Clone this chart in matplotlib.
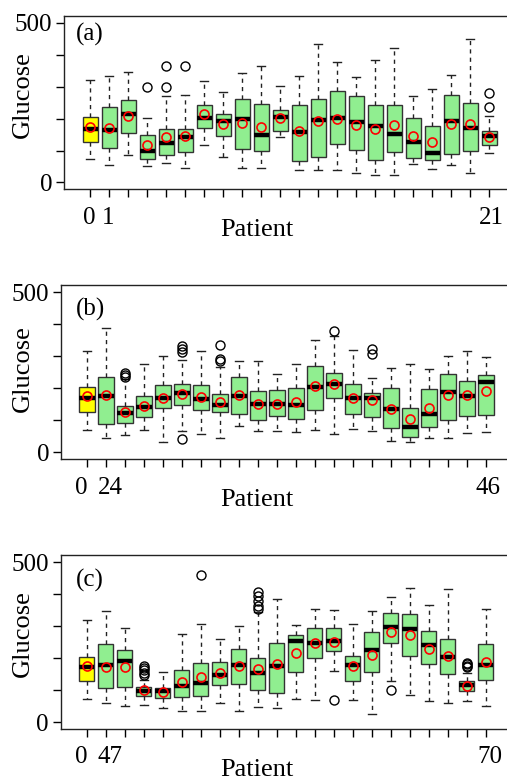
import matplotlib
matplotlib.use("Agg")
import matplotlib.pyplot as plt
from matplotlib.transforms import ScaledTranslation

plt.rcParams['font.family'] = ['Liberation Serif', 'DejaVu Serif']

W, H = 507, 782

# panel (a): patient 0 (reference) + patients 1..21
a_lo = [72, 56, 87, 53, 60, 44, 116, 80, 46, 46, 141, 38, 38, 38, 31, 23, 23, 58, 43, 56, 29, 91]
a_q1 = [128, 109, 155, 75, 85, 95, 170, 147, 106, 100, 160, 66, 81, 119, 102, 69, 96, 76, 69, 88, 98, 117]
a_med = [168, 163, 216, 99, 123, 141, 202, 193, 199, 150, 205, 158, 197, 201, 190, 177, 151, 128, 92, 192, 172, 145]
a_q3 = [205, 236, 258, 150, 169, 169, 242, 215, 260, 247, 227, 243, 261, 285, 270, 243, 243, 203, 176, 273, 248, 161]
a_hi = [320, 334, 345, 203, 272, 275, 317, 284, 343, 365, 301, 333, 435, 376, 331, 383, 422, 271, 292, 337, 450, 208]
a_mean = [174, 170, 207, 117, 141, 146, 214, 182, 186, 173, 201, 160, 194, 198, 180, 168, 180, 145, 127, 182, 184, 143]
a_out = [[], [], [], [298], [298, 366], [366], [], [], [], [], [], [], [], [], [], [], [], [], [], [], [], [235, 280]]

# panel (b): patient 0 + patients 24..46
b_lo = [71, 45, 54, 70, 33, 67, 58, 46, 81, 68, 67, 65, 71, 58, 73, 67, 37, 31, 45, 45, 61, 65]
b_q1 = [127, 88, 93, 110, 139, 148, 132, 125, 119, 101, 114, 103, 133, 171, 119, 110, 75, 47, 79, 100, 114, 116]
b_med = [170, 177, 123, 141, 170, 184, 166, 149, 177, 150, 150, 149, 205, 213, 171, 170, 136, 80, 121, 190, 176, 219]
b_q3 = [205, 234, 146, 176, 209, 212, 210, 183, 236, 193, 194, 200, 270, 247, 213, 184, 200, 140, 197, 245, 224, 243]
b_hi = [318, 389, 228, 275, 301, 287, 318, 266, 285, 285, 244, 275, 350, 363, 320, 232, 264, 277, 260, 302, 318, 298]
b_mean = [175, 180, 125, 146, 171, 181, 172, 157, 180, 152, 150, 158, 207, 214, 169, 162, 136, 104, 139, 179, 178, 193]
b_out = [[], [], [234, 241, 248], [], [], [42, 314, 323, 331], [], [285, 290, 336], [], [], [], [],
         [], [380], [], [306, 324], [], [], [], [], [], []]

# panel (c): patient 0 + patients 47..70
c_lo = [72, 59, 50, 52, 43, 34, 34, 59, 34, 47, 43, 72, 69, 161, 68, 26, 129, 85, 65, 60, 65, 51]
c_q1 = [128, 107, 110, 82, 76, 80, 83, 116, 120, 100, 92, 157, 201, 223, 130, 156, 246, 207, 181, 150, 98, 132]
c_med = [171, 180, 190, 96, 96, 113, 123, 146, 180, 155, 177, 253, 247, 253, 178, 227, 296, 291, 241, 205, 116, 179]
c_q3 = [204, 243, 224, 109, 108, 164, 186, 188, 230, 201, 246, 272, 293, 293, 208, 281, 340, 338, 284, 261, 129, 245]
c_hi = [320, 347, 293, 131, 156, 276, 307, 261, 300, 345, 384, 303, 353, 349, 308, 348, 390, 418, 367, 416, 152, 353]
c_mean = [174, 171, 172, 100, 94, 126, 142, 154, 176, 165, 181, 217, 246, 249, 174, 210, 282, 271, 229, 206, 114, 188]
c_out = [[], [], [], [146, 154, 162, 169, 177], [], [], [460], [], [], [355, 364, 378, 393, 406], [], [],
         [], [68], [], [], [100], [], [], [], [173, 177, 181, 185], []]

panels = [
    ('(a)', ['0', '1', '21'], a_lo, a_q1, a_med, a_q3, a_hi, a_mean, a_out),
    ('(b)', ['0', '24', '46'], b_lo, b_q1, b_med, b_q3, b_hi, b_mean, b_out),
    ('(c)', ['0', '47', '70'], c_lo, c_q1, c_med, c_q3, c_hi, c_mean, c_out),
]

# pixel layout of each panel
layout = [
    dict(left=64.3, top=16, bottom=189.3, tag_y=34, glu_y=95, pat_y=236, pat_va='baseline',
         shifts=[-1, -1, 2]),
    dict(left=61.0, top=285.3, bottom=459.3, tag_y=309, glu_y=369, pat_y=506, pat_va='baseline',
         shifts=[-5.5, 4.5, 2.5]),
    dict(left=60.7, top=555.3, bottom=729.0, tag_y=580, glu_y=634, pat_y=781.5, pat_va='bottom',
         shifts=[-5.5, 4.5, 4]),
]

fig = plt.figure(figsize=(W / 100, H / 100), dpi=100)

for (tag, xlabels, lo, q1, med, q3, hi, mean, out), lay in zip(panels, layout):
    ax = fig.add_axes([lay['left'] / W, 1 - lay['bottom'] / H,
                       451 / W, (lay['bottom'] - lay['top']) / H])
    stats = []
    for i in range(len(med)):
        stats.append(dict(whislo=lo[i], q1=q1[i], med=med[i], q3=q3[i],
                          whishi=hi[i], mean=mean[i], fliers=out[i]))
    pos = list(range(len(med)))
    bp = ax.bxp(stats, positions=pos, widths=0.8, patch_artist=True,
                showmeans=True, capwidths=0.42,
                boxprops=dict(edgecolor='#333333', linewidth=1.0),
                medianprops=dict(color='black', linewidth=3.2, solid_capstyle='butt'),
                whiskerprops=dict(color='#222222', linewidth=1.0, linestyle=(0, (3, 3))),
                capprops=dict(color='#222222', linewidth=1.0),
                meanprops=dict(marker='o', markerfacecolor='none', markeredgecolor='red',
                               markersize=6.5, markeredgewidth=1.2),
                flierprops=dict(marker='o', markerfacecolor='none', markeredgecolor='black',
                                markersize=6.5, markeredgewidth=1.0))
    for k, patch in enumerate(bp['boxes']):
        patch.set_facecolor('#ffff00' if k == 0 else '#90ee90')

    ax.set_xlim(-1.37, 22.37)
    ax.set_ylim(-21.5, 521.5)
    ax.set_xticks(pos)
    ax.set_xticklabels([xlabels[0], xlabels[1]] + [''] * 19 + [xlabels[2]])
    ax.set_yticks([0, 100, 200, 300, 400, 500])
    ax.set_yticklabels(['0', '', '', '', '', '500'])
    ax.tick_params(axis='x', length=5.5, width=1, pad=7, labelsize=18)
    ax.tick_params(axis='y', length=6, width=1, pad=2.5, labelsize=18)
    labels = ax.get_xticklabels()
    for lab, dx in zip([labels[0], labels[1], labels[21]], lay['shifts']):
        lab.set_transform(lab.get_transform() + ScaledTranslation(dx / 100, 0, fig.dpi_scale_trans))
    for s in ax.spines.values():
        s.set_linewidth(1.0)
        s.set_color('#222222')

    fig.text(76 / W, 1 - lay['tag_y'] / H, tag, fontsize=18, va='center', ha='left')
    fig.text(23 / W, 1 - lay['glu_y'] / H, 'Glucose', fontsize=19, rotation=90,
             va='center', ha='center')
    fig.text(257 / W, 1 - lay['pat_y'] / H, 'Patient', fontsize=19, va=lay['pat_va'], ha='center')

fig.savefig('out.png', dpi=100)
